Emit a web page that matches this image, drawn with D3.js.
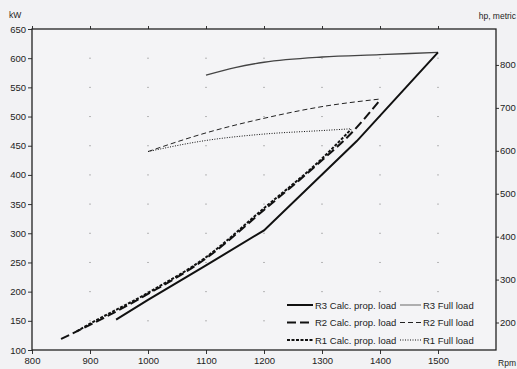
<!DOCTYPE html>
<html>
<head>
<meta charset="utf-8">
<script src="https://cdn.jsdelivr.net/npm/d3@7"></script>
<style>
  body { margin: 0; background: #f2f2f4; }
  text { font-family: "Liberation Sans", Arial, sans-serif; fill: #222; }
</style>
</head>
<body>
<div id="chart-area"></div>
<script>
// engine power curves, kW vs rpm
let xTicks = [800, 900, 1000, 1100, 1200, 1300, 1400, 1500];
let kwTicks = [100, 150, 200, 250, 300, 350, 400, 450, 500, 550, 600, 650];
let hpTicks = [200, 300, 400, 500, 600, 700, 800];

let r3PropRpm = [945, 1000, 1100, 1200, 1360, 1500];
let r3PropKw  = [152, 186, 245, 305, 458, 610];
let r2PropRpm = [850, 900, 1000, 1100, 1200, 1300, 1350, 1400];
let r2PropKw  = [119, 143, 196, 257, 340, 425, 471, 528];
let r1PropRpm = [877, 900, 1000, 1100, 1200, 1300, 1350];
let r1PropKw  = [132, 145, 198, 259, 343, 428, 478];

let r3FullRpm = [1100, 1150, 1200, 1300, 1400, 1500];
let r3FullKw  = [571, 584, 593, 602, 606, 610];
let r2FullRpm = [1000, 1100, 1200, 1300, 1400];
let r2FullKw  = [440, 472, 497, 517, 530];
let r1FullRpm = [1000, 1100, 1200, 1300, 1350];
let r1FullKw  = [440, 459, 470, 476, 479];

let series = [
    {name: "R3 Calc. prop. load", rpm: r3PropRpm, kw: r3PropKw, color: "#111", width: 2, dash: null},
    {name: "R2 Calc. prop. load", rpm: r2PropRpm, kw: r2PropKw, color: "#111", width: 2, dash: "9,4"},
    {name: "R1 Calc. prop. load", rpm: r1PropRpm, kw: r1PropKw, color: "#111", width: 2, dash: "3,1.5"},
    {name: "R3 Full load", rpm: r3FullRpm, kw: r3FullKw, color: "#444", width: 1.3, dash: null},
    {name: "R2 Full load", rpm: r2FullRpm, kw: r2FullKw, color: "#222", width: 1, dash: "5,3"},
    {name: "R1 Full load", rpm: r1FullRpm, kw: r1FullKw, color: "#111", width: 1, dash: "1,1.5"}
];

let width = 517, height = 369;
let margin = {top: 29, right: 21, bottom: 19, left: 32};
let w = width - margin.left - margin.right;
let h = height - margin.top - margin.bottom;

let svg = d3.select("#chart-area")
    .append("svg")
    .attr("width", width)
    .attr("height", height)
    .append("g")
    .attr("transform", "translate(" + margin.left + "," + margin.top + ")");

let x = d3.scaleLinear().domain([800, 1600]).range([0, w]);
let y = d3.scaleLinear().domain([100, 650]).range([h, 0]);
let yHp = d3.scaleLinear().domain([100 * 1.35962, 650 * 1.35962]).range([h, 0]);

// plot background
svg.append("rect")
    .attr("width", w)
    .attr("height", h)
    .attr("fill", "#f4f4f6");

// grid dots
xTicks.slice(1).forEach(function (t) {
    kwTicks.slice(1, -1).forEach(function (k) {
        svg.append("rect")
            .attr("x", x(t) - 0.5)
            .attr("y", y(k) - 0.5)
            .attr("width", 1)
            .attr("height", 1)
            .attr("fill", "#777");
    });
});

// axes
let xAxis = d3.axisBottom(x).tickValues(xTicks).tickSize(4).tickPadding(3).tickFormat(d3.format("d"));
let xTop = d3.axisTop(x).tickValues(xTicks).tickSize(3).tickFormat("");
let yAxis = d3.axisLeft(y).tickValues(kwTicks).tickSize(4).tickPadding(2).tickFormat(d3.format("d"));
let hpAxis = d3.axisRight(yHp).tickValues(hpTicks).tickSize(3).tickPadding(1).tickFormat(d3.format("d"));

svg.append("g").attr("class", "axis").attr("transform", "translate(0," + h + ")").call(xAxis);
svg.append("g").attr("class", "axis").call(xTop);
svg.append("g").attr("class", "axis").call(yAxis);
svg.append("g").attr("class", "axis").attr("transform", "translate(" + w + ",0)").call(hpAxis);

svg.selectAll(".axis .domain").remove();
svg.selectAll(".axis line").attr("stroke", "#333");
svg.selectAll(".axis text").attr("font-size", "9.5px").attr("fill", "#222");

// frame
svg.append("rect")
    .attr("width", w)
    .attr("height", h)
    .attr("fill", "none")
    .attr("stroke", "#222")
    .attr("stroke-width", 1.3);

// unit labels
svg.append("text").attr("x", -23).attr("y", -11).attr("font-size", "8.5px").text("kW");
svg.append("text").attr("x", w + 20).attr("y", -10).attr("font-size", "8.5px")
    .attr("text-anchor", "end").text("hp, metric");
svg.append("text").attr("x", w + 20).attr("y", h + 16).attr("font-size", "8.5px")
    .attr("text-anchor", "end").text("Rpm");

// curves
let line = d3.line()
    .x(function (d) { return x(d[0]); })
    .y(function (d) { return y(d[1]); });

series.slice().reverse().forEach(function (s) {
    let pts = s.rpm.map(function (r, i) { return [r, s.kw[i]]; });
    // R3 prop curve has visible corners, the rest are smooth
    line.curve(s === series[0] ? d3.curveLinear : d3.curveMonotoneX);
    svg.append("path")
        .datum(pts)
        .attr("d", line)
        .attr("fill", "none")
        .attr("stroke", s.color)
        .attr("stroke-width", s.width)
        .attr("stroke-dasharray", s.dash);
});

// legend
let legend = svg.append("g").attr("transform", "translate(" + (287 - margin.left) + "," + (305 - margin.top) + ")");
series.forEach(function (s, i) {
    let col = i < 3 ? 0 : 1;
    let row = i % 3;
    let gx = col * 113;
    let gy = row * 17.5;
    legend.append("line")
        .attr("x1", gx)
        .attr("x2", gx + (col === 0 ? 26 : 21))
        .attr("y1", gy)
        .attr("y2", gy)
        .attr("stroke", i === 3 ? "#888" : s.color)
        .attr("stroke-width", s.width)
        .attr("stroke-dasharray", s.dash);
    legend.append("text")
        .attr("x", gx + (col === 0 ? 28 : 23))
        .attr("y", gy + 3.5)
        .attr("font-size", "9.5px")
        .text(s.name);
});
</script>
</body>
</html>
